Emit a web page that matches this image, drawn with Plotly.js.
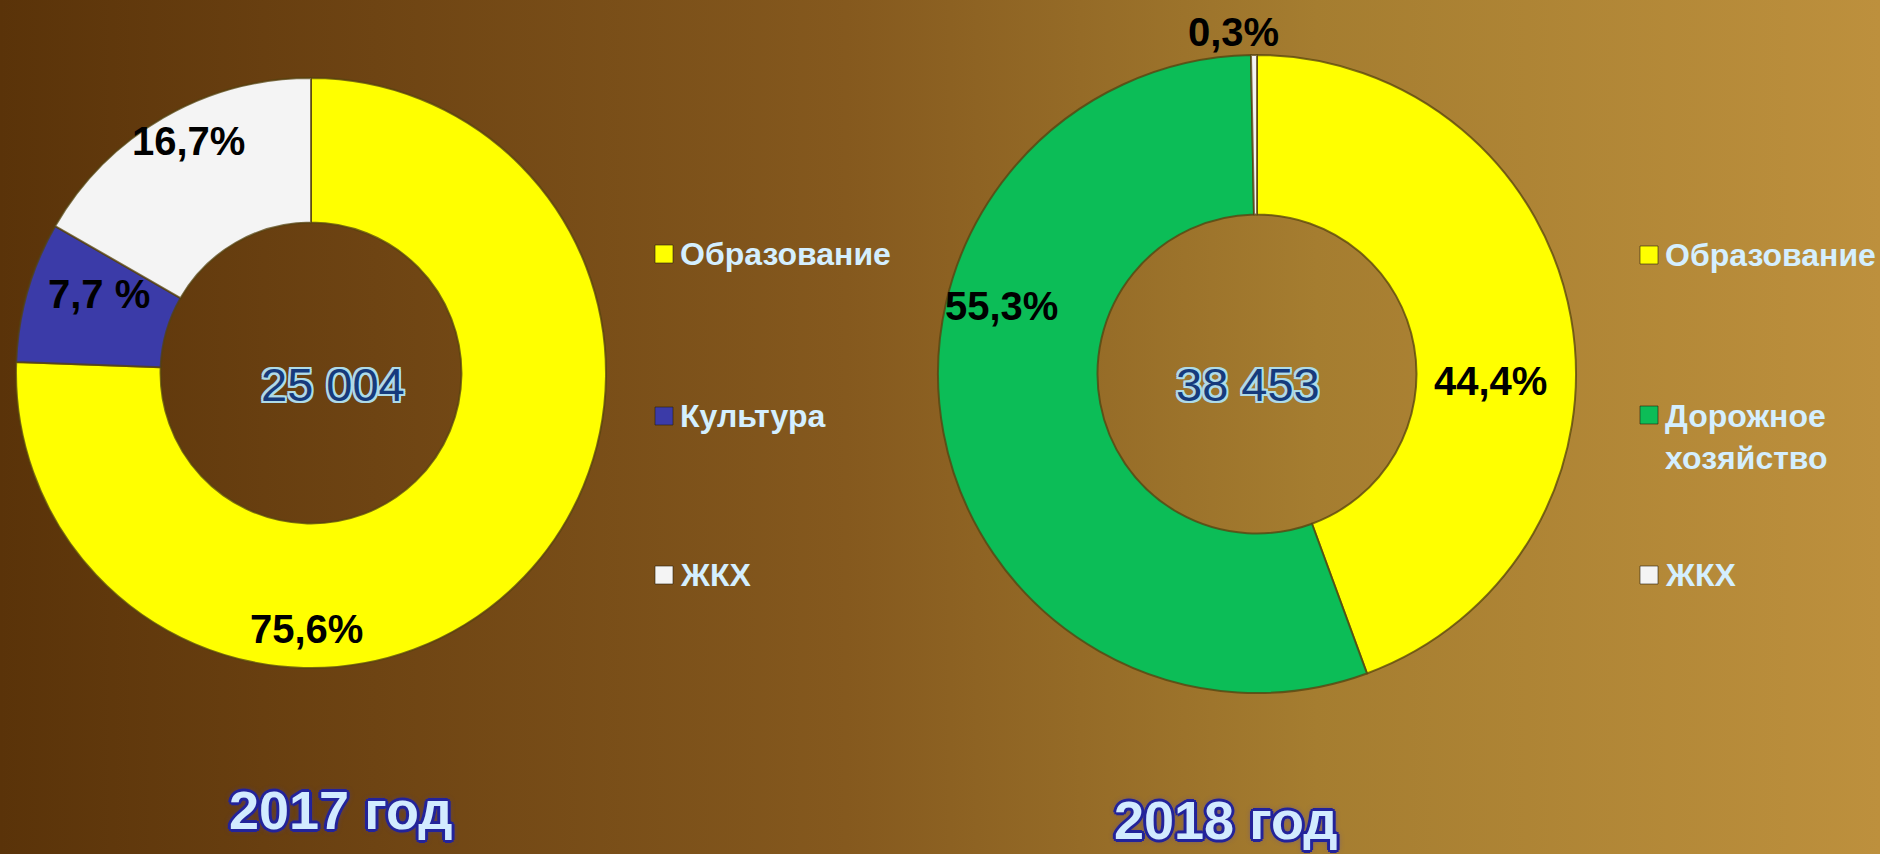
<!DOCTYPE html>
<html>
<head>
<meta charset="utf-8">
<script src="https://cdn.plot.ly/plotly-3.0.1.min.js"></script>
<style>
  html, body { margin: 0; padding: 0; }
  body {
    width: 1880px; height: 854px; overflow: hidden;
    background: linear-gradient(to right, #5a3309 0%, #6e4413 20%, #85591e 45%, #a57d30 70%, #bd903d 100%);
  }
  #chart { width: 1880px; height: 854px; }
</style>
</head>
<body>
<div id="chart"></div>
<script>
// ---- data ----
const categories2017 = ['Образование', 'Культура', 'ЖКХ'];
const values2017 = [75.6, 7.7, 16.7];
const sliceLabels2017 = ['75,6%', '7,7 %', '16,7%'];
const total2017 = '25 004';
const year2017 = '2017 год';

const categories2018 = ['Образование', 'Дорожное хозяйство', 'ЖКХ'];
const legendText2018 = ['Образование', 'Дорожное<br>хозяйство', 'ЖКХ'];
const values2018 = [44.4, 55.3, 0.3];
const sliceLabels2018 = ['44,4%', '55,3%', '0,3%'];
const total2018 = '38 453';
const year2018 = '2018 год';

// ---- styling ----
const colors2017 = ['#ffff00', '#3b3ba8', '#f4f4f4'];
const colors2018 = ['#ffff00', '#0cbd57', '#f4f4f4'];
const W = 1880, H = 854;
const px = x => x / W;
const py = y => 1 - y / H;

const ring = {color: 'rgba(85,65,15,0.75)', width: 2};

const traces = [
  {
    type: 'pie', labels: categories2017, values: values2017, hole: 0.51,
    sort: false, direction: 'clockwise', rotation: 0,
    marker: {colors: colors2017, line: ring},
    textinfo: 'none', hoverinfo: 'label+percent', showlegend: false,
    domain: {x: [px(16), px(606)], y: [py(668), py(78)]}
  },
  {
    type: 'pie', labels: categories2018, values: values2018, hole: 0.5,
    sort: false, direction: 'clockwise', rotation: 0,
    marker: {colors: colors2018, line: ring},
    textinfo: 'none', hoverinfo: 'label+percent', showlegend: false,
    domain: {x: [px(938), px(1576)], y: [py(693), py(55)]}
  }
];

const annotations = [];
const shapes = [];
const labelFont = {family: 'Liberation Sans, Arial, sans-serif', size: 40, color: '#000000', weight: 700};

function addLabel(text, x, y) {
  annotations.push({text: text, x: px(x), y: py(y), xref: 'paper', yref: 'paper',
    showarrow: false, xanchor: 'center', yanchor: 'middle', font: labelFont});
}
// slice labels (2017: yellow, blue, white; 2018: yellow, green, white)
const pos2017 = [[306, 629], [99, 294], [188, 141]];
const pos2018 = [[1490, 381], [1001, 306], [1233, 32]];
sliceLabels2017.forEach((t, i) => addLabel(t, pos2017[i][0], pos2017[i][1]));
sliceLabels2018.forEach((t, i) => addLabel(t, pos2018[i][0], pos2018[i][1]));

// center totals
const o = '#aedbe8';
const centerShadow = `-2px -2px 0 ${o}, 2px -2px 0 ${o}, -2px 2px 0 ${o}, 2px 2px 0 ${o}, 0 -2px 0 ${o}, 0 2px 0 ${o}, -2px 0 0 ${o}, 2px 0 0 ${o}`;
const centerFont = {family: 'Liberation Sans, Arial, sans-serif', size: 47, color: '#163a7c', shadow: centerShadow};
annotations.push({text: total2017, x: px(333), y: py(384), xref: 'paper', yref: 'paper',
  showarrow: false, xanchor: 'center', yanchor: 'middle', font: centerFont});
annotations.push({text: total2018, x: px(1248), y: py(385), xref: 'paper', yref: 'paper',
  showarrow: false, xanchor: 'center', yanchor: 'middle', font: centerFont});

// year titles
const d = '#23239a';
const yearShadow = `-2px -2px 0 ${d}, 2px -2px 0 ${d}, -2px 2px 0 ${d}, 2px 2px 0 ${d}, 0 -3px 0 ${d}, 0 3px 0 ${d}, -3px 0 0 ${d}, 3px 0 0 ${d}, 0 0 6px #3a3ad0`;
const yearFont = {family: 'Liberation Sans, Arial, sans-serif', size: 54, color: '#d2ebff', weight: 700, shadow: yearShadow};
annotations.push({text: year2017, x: px(340), y: py(810), xref: 'paper', yref: 'paper',
  showarrow: false, xanchor: 'center', yanchor: 'middle', font: yearFont});
annotations.push({text: year2018, x: px(1225), y: py(820), xref: 'paper', yref: 'paper',
  showarrow: false, xanchor: 'center', yanchor: 'middle', font: yearFont});

// legends
const legendFont = {family: 'Liberation Sans, Arial, sans-serif', size: 32, color: '#d4efff', weight: 700};
function addLegend(texts, colors, sqX, textX, ys) {
  texts.forEach((t, i) => {
    const multi = t.indexOf('<br>') >= 0;
    annotations.push({text: t, x: px(textX), y: py(multi ? ys[i] - 19 : ys[i]), xref: 'paper', yref: 'paper',
      showarrow: false, xanchor: 'left', yanchor: multi ? 'top' : 'middle', align: 'left', font: legendFont});
    shapes.push({type: 'rect', xref: 'paper', yref: 'paper',
      x0: px(sqX), x1: px(sqX + 18), y0: py(ys[i] - 9), y1: py(ys[i] + 9),
      fillcolor: colors[i], line: {color: 'rgba(40,30,10,0.6)', width: 1}});
  });
}
addLegend(categories2017, colors2017, 655, 678, [254, 416, 575]);
addLegend(legendText2018, colors2018, 1640, 1663, [255, 415, 575]);

const layout = {
  width: W, height: H,
  margin: {l: 0, r: 0, t: 0, b: 0},
  paper_bgcolor: 'rgba(0,0,0,0)',
  plot_bgcolor: 'rgba(0,0,0,0)',
  showlegend: false,
  annotations: annotations,
  shapes: shapes
};

Plotly.newPlot('chart', traces, layout, {displayModeBar: false, staticPlot: true});
</script>
</body>
</html>
